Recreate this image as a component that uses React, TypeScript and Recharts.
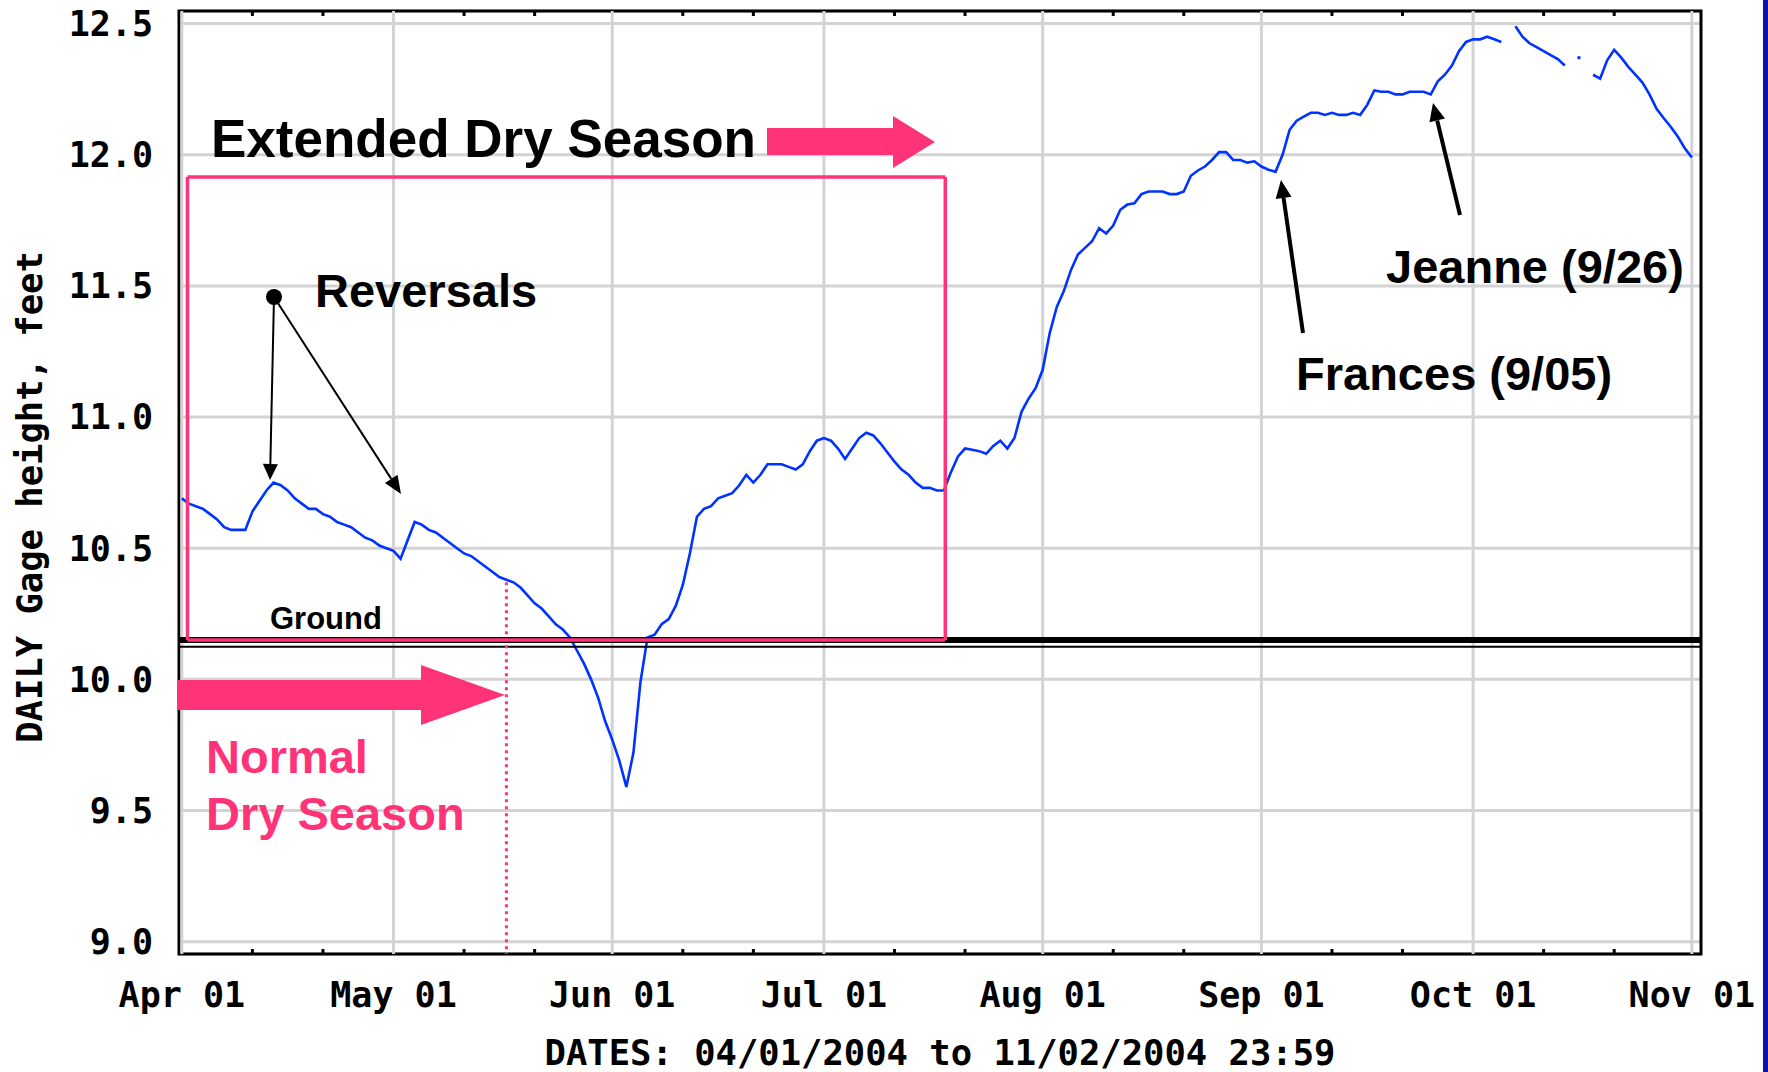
import React from 'react';
import {
  CartesianGrid,
  Line,
  LineChart,
  ReferenceArea,
  ReferenceLine,
  XAxis,
  YAxis,
} from 'recharts';

// day index 0 = Apr 01 2004
const monthStarts = [0, 30, 61, 91, 122, 153, 183, 214];
const monthLabels = ['Apr 01', 'May 01', 'Jun 01', 'Jul 01', 'Aug 01', 'Sep 01', 'Oct 01', 'Nov 01'];
const minorTicks = [10, 20, 40, 50, 71, 81, 101, 111, 132, 142, 163, 173, 193, 203];
const yTicks = [9.0, 9.5, 10.0, 10.5, 11.0, 11.5, 12.0, 12.5];

// daily gage height, feet (null = missing day)
const aprilHeights = [
  10.69, 10.67, 10.66, 10.65, 10.63, 10.61, 10.58, 10.57, 10.57, 10.57,
  10.64, 10.68, 10.72, 10.75, 10.74, 10.72, 10.69, 10.67, 10.65, 10.65,
  10.63, 10.62, 10.6, 10.59, 10.58, 10.56, 10.54, 10.53, 10.51, 10.5,
];
const mayHeights = [
  10.49, 10.46, 10.53, 10.6, 10.59, 10.57, 10.56, 10.54, 10.52, 10.5,
  10.48, 10.47, 10.45, 10.43, 10.41, 10.39, 10.38, 10.37, 10.35, 10.32,
  10.29, 10.27, 10.24, 10.21, 10.19, 10.16, 10.11, 10.06, 10.0, 9.93, 9.84,
];
const juneHeights = [
  9.77, 9.69, 9.59, 9.72, 9.99, 10.16, 10.17, 10.21, 10.23, 10.28,
  10.36, 10.48, 10.62, 10.65, 10.66, 10.69, 10.7, 10.71, 10.74, 10.78,
  10.75, 10.78, 10.82, 10.82, 10.82, 10.81, 10.8, 10.82, 10.87, 10.91,
];
const julyHeights = [
  10.92, 10.91, 10.88, 10.84, 10.88, 10.92, 10.94, 10.93, 10.9, 10.865,
  10.83, 10.8, 10.78, 10.75, 10.73, 10.73, 10.72, 10.72, 10.79, 10.85,
  10.88, 10.875, 10.87, 10.86, 10.89, 10.91, 10.88, 10.92, 11.02, 11.07, 11.11,
];
const augustHeights = [
  11.18, 11.32, 11.42, 11.48, 11.56, 11.62, 11.645, 11.67, 11.72, 11.7,
  11.73, 11.79, 11.81, 11.815, 11.85, 11.86, 11.86, 11.86, 11.85, 11.85,
  11.86, 11.92, 11.94, 11.955, 11.98, 12.01, 12.01, 11.98, 11.98, 11.97, 11.975,
];
const septemberHeights = [
  11.955, 11.943, 11.935, 12.0, 12.095, 12.13, 12.145, 12.16, 12.16, 12.152,
  12.16, 12.152, 12.152, 12.16, 12.152, 12.19, 12.245, 12.24, 12.24, 12.23,
  12.23, 12.24, 12.24, 12.24, 12.23, 12.28, 12.305, 12.34, 12.395, 12.43,
];
const octoberHeights = [
  12.44, 12.44, 12.45, 12.44, 12.43, null, 12.49, 12.45, 12.425, 12.41,
  12.395, 12.38, 12.365, 12.34, null, 12.37, null, 12.305, 12.29, 12.36,
  12.4, 12.37, 12.335, 12.305, 12.275, 12.23, 12.175, 12.14, 12.107, 12.07, 12.025,
];
const novemberHeights = [11.99];

const heights: (number | null)[] = [
  ...aprilHeights,
  ...mayHeights,
  ...juneHeights,
  ...julyHeights,
  ...augustHeights,
  ...septemberHeights,
  ...octoberHeights,
  ...novemberHeights,
];
const data = heights.map((height, day) => ({ day, height }));

// annotation anchors in data units
const groundLevel = 10.15;
const groundEdge = 10.124;
const dryBoxStart = 0.8;
const dryBoxEnd = 108.2;
const dryBoxTop = 11.915;
const normalDryEnd = 46;
const normalDryTop = 10.37;

const X_DOMAIN: [number, number] = [-0.4, 215.3];
const Y_DOMAIN: [number, number] = [8.953, 12.548];
const PLOT_TOP = 11;
const PLOT_BOTTOM = 954;

const PINK = '#ff3377';
const BLUE = '#0033ff';
const GRID = '#d3d3d3';
const MONO = '"DejaVu Sans Mono", monospace';
const SANS = '"Liberation Sans", Arial, sans-serif';

// pink "extended dry season" box, as four edges so it sits above the ground line
const dryBoxEdges = [
  [{ x: dryBoxStart, y: groundLevel }, { x: dryBoxStart, y: dryBoxTop }],
  [{ x: dryBoxStart, y: dryBoxTop }, { x: dryBoxEnd, y: dryBoxTop }],
  [{ x: dryBoxEnd, y: dryBoxTop }, { x: dryBoxEnd, y: groundLevel }],
  [{ x: dryBoxEnd, y: groundLevel }, { x: dryBoxStart, y: groundLevel }],
];

function DateTick(props: any) {
  const { x, payload } = props;
  const i = monthStarts.indexOf(payload.value);
  if (i >= 0) {
    return (
      <text x={x} y={PLOT_BOTTOM + 53} textAnchor="middle" fontFamily={MONO} fontWeight="bold" fontSize={35} fill="#000">
        {monthLabels[i]}
      </text>
    );
  }
  return (
    <g>
      <line x1={x} x2={x} y1={PLOT_BOTTOM} y2={PLOT_BOTTOM - 5} stroke="#000" strokeWidth={3} />
      <line x1={x} x2={x} y1={PLOT_TOP} y2={PLOT_TOP + 5} stroke="#000" strokeWidth={3} />
    </g>
  );
}

function loneDot(props: any) {
  const { cx, cy, index } = props;
  const lone = heights[index] != null && heights[index - 1] == null && heights[index + 1] == null;
  if (!lone || cx == null || cy == null) return <g key={`d${index}`} />;
  return <rect key={`d${index}`} x={cx - 1.5} y={cy - 1.5} width={3} height={3} fill={BLUE} />;
}

function Arrow(props: { x1: number; y1: number; x2: number; y2: number; w: number; len: number; half: number }) {
  const { x1, y1, x2, y2, w, len, half } = props;
  const a = Math.atan2(y2 - y1, x2 - x1);
  const bx = x2 - len * Math.cos(a);
  const by = y2 - len * Math.sin(a);
  const px = -Math.sin(a);
  const py = Math.cos(a);
  return (
    <g>
      <line x1={x1} y1={y1} x2={bx} y2={by} stroke="#000" strokeWidth={w} />
      <polygon
        points={`${x2},${y2} ${bx + px * half},${by + py * half} ${bx - px * half},${by - py * half}`}
        fill="#000"
      />
    </g>
  );
}

export default function App() {
  return (
    <div style={{ position: 'absolute', left: 0, top: 0, width: 1768, height: 1072, background: '#fff' }}>
      <LineChart width={1768} height={1072} data={data} margin={{ top: PLOT_TOP, right: 67, bottom: 0, left: 0 }}>
        <CartesianGrid vertical={false} stroke={GRID} strokeWidth={3} />
        {monthStarts.map((d) => (
          <ReferenceLine key={d} x={d} stroke={GRID} strokeWidth={3} />
        ))}
        <XAxis
          dataKey="day"
          type="number"
          domain={X_DOMAIN}
          allowDataOverflow
          ticks={[...monthStarts, ...minorTicks]}
          interval={0}
          height={118}
          axisLine={false}
          tickLine={false}
          tickSize={0}
          tickMargin={0}
          tick={(p: any) => <DateTick {...p} />}
        />
        <YAxis
          type="number"
          domain={Y_DOMAIN}
          allowDataOverflow
          ticks={yTicks}
          interval={0}
          width={179}
          axisLine={false}
          tickLine={false}
          tickSize={0}
          tickMargin={26}
          tickFormatter={(v: number) => v.toFixed(1)}
          tick={{ fill: '#000', fontFamily: MONO, fontWeight: 'bold', fontSize: 35 }}
        />
        <Line
          type="linear"
          dataKey="height"
          stroke={BLUE}
          strokeWidth={2.6}
          dot={loneDot}
          activeDot={false}
          connectNulls={false}
          isAnimationActive={false}
        />
        <ReferenceLine y={groundLevel} stroke="#000" strokeWidth={6} />
        <ReferenceLine y={groundEdge} stroke="#000" strokeWidth={2} />
        {dryBoxEdges.map((seg, i) => (
          <ReferenceLine key={`box${i}`} segment={seg} stroke={PINK} strokeWidth={3.5} ifOverflow="visible" />
        ))}
        <ReferenceLine
          segment={[
            { x: normalDryEnd, y: normalDryTop },
            { x: normalDryEnd, y: Y_DOMAIN[0] },
          ]}
          stroke={PINK}
          strokeWidth={3}
          strokeDasharray="3 4"
        />
        <ReferenceArea
          x1={X_DOMAIN[0]}
          x2={X_DOMAIN[1]}
          y1={Y_DOMAIN[0]}
          y2={Y_DOMAIN[1]}
          fill="none"
          fillOpacity={0}
          stroke="#000"
          strokeWidth={3}
          ifOverflow="visible"
        />
      </LineChart>

      <svg width={1768} height={1072} style={{ position: 'absolute', left: 0, top: 0, pointerEvents: 'none' }}>
        <text
          transform="translate(42,497) rotate(-90)"
          textAnchor="middle"
          fontFamily={MONO}
          fontWeight="bold"
          fontSize={35.5}
          fill="#000"
        >
          DAILY Gage height, feet
        </text>
        <text x={940} y={1065} textAnchor="middle" fontFamily={MONO} fontWeight="bold" fontSize={35.5} fill="#000">
          DATES: 04/01/2004 to 11/02/2004 23:59
        </text>

        <text x={211} y={157} fontFamily={SANS} fontWeight="bold" fontSize={53} fill="#000">
          Extended Dry Season
        </text>
        <rect x={767} y={128} width={127} height={27} fill={PINK} />
        <polygon points="893,116 935,142 893,168" fill={PINK} />

        <text x={315} y={307} fontFamily={SANS} fontWeight="bold" fontSize={47} fill="#000">
          Reversals
        </text>
        <circle cx={274} cy={297} r={8} fill="#000" />
        <Arrow x1={274} y1={297} x2={270} y2={480} w={2} len={16} half={7.5} />
        <Arrow x1={274} y1={297} x2={401} y2={494} w={2} len={18} half={7.5} />

        <text x={270} y={629} fontFamily={SANS} fontWeight="bold" fontSize={31} fill="#000">
          Ground
        </text>

        <rect x={177} y={680} width={245} height={30} fill={PINK} />
        <polygon points="421,665 505,695 421,725" fill={PINK} />
        <text x={206} y={773} fontFamily={SANS} fontWeight="bold" fontSize={47} fill={PINK}>
          Normal
        </text>
        <text x={206} y={830} fontFamily={SANS} fontWeight="bold" fontSize={47} fill={PINK}>
          Dry Season
        </text>

        <text x={1296} y={390} fontFamily={SANS} fontWeight="bold" fontSize={47} fill="#000">
          Frances (9/05)
        </text>
        <Arrow x1={1303} y1={333} x2={1281} y2={180} w={4} len={18} half={8} />
        <text x={1386} y={283} fontFamily={SANS} fontWeight="bold" fontSize={47} fill="#000">
          Jeanne (9/26)
        </text>
        <Arrow x1={1460} y1={215} x2={1433} y2={103} w={4} len={18} half={8} />

        <rect x={1763} y={0} width={5} height={1072} fill="#0612b4" />
      </svg>
    </div>
  );
}
